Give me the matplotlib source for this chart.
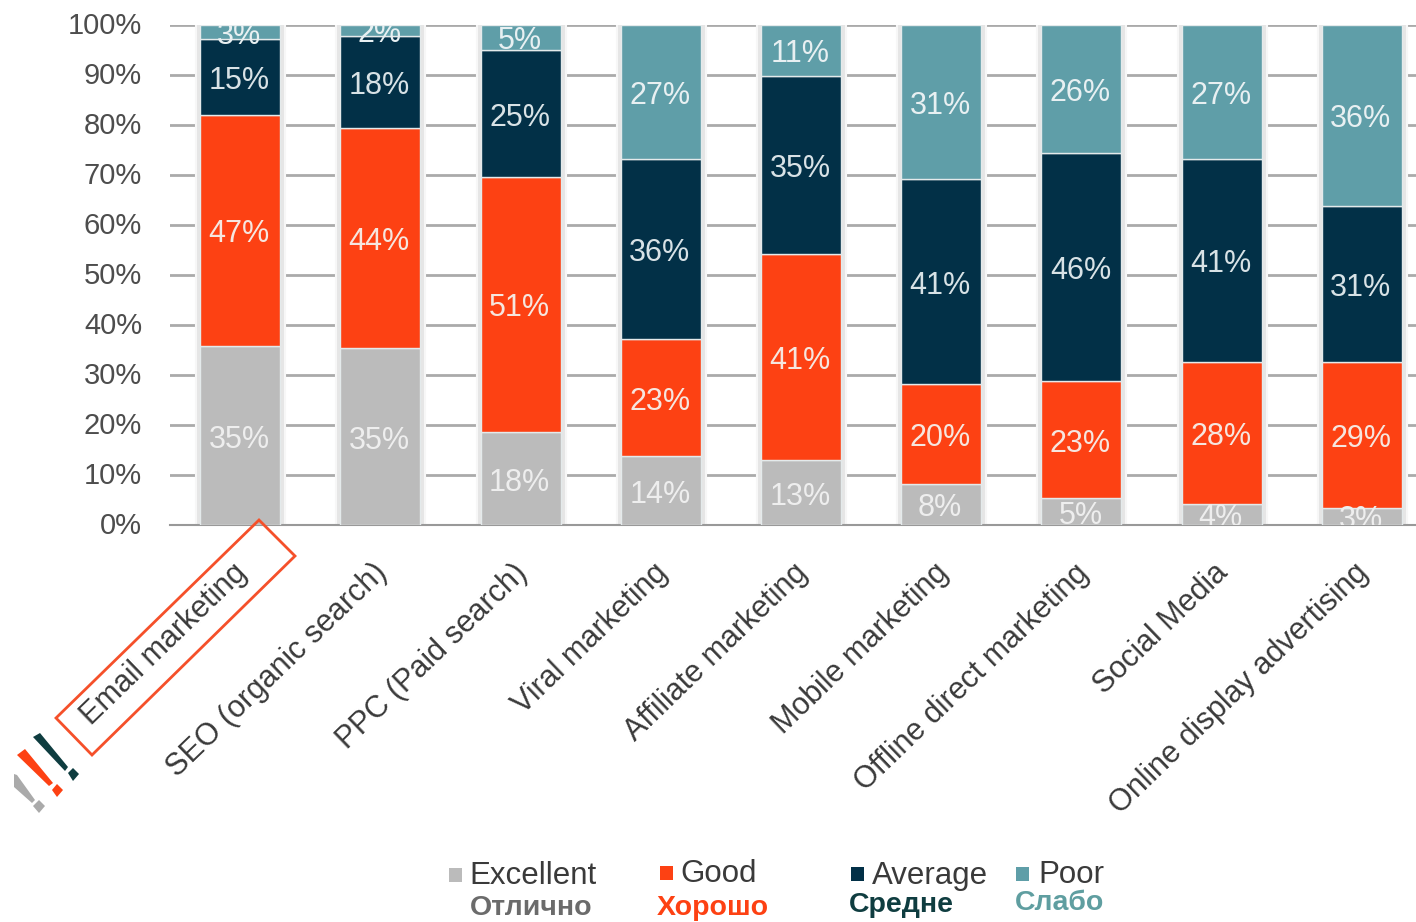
import matplotlib
matplotlib.use("Agg")
import matplotlib.pyplot as plt
import matplotlib.patheffects as pe
from matplotlib.patches import Polygon, Rectangle
from matplotlib.transforms import ScaledTranslation, Affine2D
import numpy as np

categories = ["Email marketing", "SEO (organic search)", "PPC (Paid search)", "Viral marketing",
              "Affiliate marketing", "Mobile marketing", "Offline direct marketing", "Social Media",
              "Online display advertising"]
# printed labels
excellent = [35, 35, 18, 14, 13, 8, 5, 4, 3]
good = [47, 44, 51, 23, 41, 20, 23, 28, 29]
average = [15, 18, 25, 36, 35, 41, 46, 41, 31]
poor = [3, 2, 5, 27, 11, 31, 26, 27, 36]
# drawn segment heights
excellent_h = [35.8, 35.4, 18.6, 13.8, 13.0, 8.2, 5.4, 4.2, 3.4]
good_h = [46.2, 44.0, 51.0, 23.4, 41.2, 20.0, 23.4, 28.4, 29.2]
average_h = [15.2, 18.4, 25.4, 36.0, 35.6, 41.0, 45.6, 40.6, 31.2]
poor_h = [2.8, 2.2, 5.0, 26.8, 10.2, 30.8, 25.6, 26.8, 36.2]
series_names = ["Excellent", "Good", "Average", "Poor"]
series_ru = ["Отлично", "Хорошо", "Средне", "Слабо"]
colors = ["#bbbbbb", "#fd4113", "#023047", "#5f9ea8"]
ru_colors = ["#6b6b6b", "#fd4113", "#0f3d40", "#5f9ea0"]
label_colors = ["#eeeeee", "#f6e6df", "#d8e2e6", "#e8f0f2"]
yticks = [0, 10, 20, 30, 40, 50, 60, 70, 80, 90, 100]

W, H = 1416, 922
plt.rcParams["font.family"] = ["Liberation Sans", "DejaVu Sans"]
fig = plt.figure(figsize=(W / 100, H / 100), dpi=100)
ax = fig.add_axes([170 / W, (H - 525) / H, (1432 - 170) / W, 500 / H])

px = Affine2D().scale(1, -1).translate(0, H)  # reference pixel coordinates (y down)

labels = np.array([excellent, good, average, poor])
heights = np.array([excellent_h, good_h, average_h, poor_h])
x = np.arange(len(categories))

# soft halo behind each whole column
columns = ax.bar(x, heights.sum(axis=0), 0.57, color="#dddddd", linewidth=0, zorder=2)
for b in columns:
    b.set_path_effects([pe.Stroke(linewidth=8, foreground="#f7f7f7"),
                        pe.Stroke(linewidth=5, foreground="#e6e6e6"),
                        pe.Normal()])

text_shift = ScaledTranslation(-1 / 100, -4 / 100, fig.dpi_scale_trans)
bottom = np.zeros(len(categories))
for k in range(4):
    ax.bar(x, heights[k], 0.57, bottom=bottom, color=colors[k], edgecolor="#e4eaeb",
           linewidth=1.0, zorder=3)
    for i in range(len(x)):
        ax.text(x[i], bottom[i] + heights[k][i] / 2, f"{labels[k][i]}%", ha="center", va="center",
                fontsize=22, color=label_colors[k], zorder=4, clip_on=True,
                transform=ax.transData + text_shift)
    bottom += heights[k]

ax.set_xlim(-0.5, len(categories) - 0.5)
ax.set_ylim(0, 100)
ax.set_yticks(yticks)
ax.set_yticklabels([f"{v}%" for v in yticks], fontsize=21, color="#4d4d4d")
ax.tick_params(axis="y", length=0, pad=20)
up = ScaledTranslation(0, 2 / 100, fig.dpi_scale_trans)
for t in ax.get_yticklabels():
    t.set_transform(t.get_transform() + up)
ax.set_xticks(x)
ax.set_xticklabels(categories, fontsize=22, color="#3a3a3a", rotation=44, ha="right", rotation_mode="anchor")
ax.tick_params(axis="x", length=0, pad=0)
shift = ScaledTranslation(-8 / 100, -33 / 100, fig.dpi_scale_trans)
for t in ax.get_xticklabels():
    t.set_transform(t.get_transform() + shift)
for s in ["top", "right", "left"]:
    ax.spines[s].set_visible(False)
ax.spines["bottom"].set_color("#999999")
ax.spines["bottom"].set_linewidth(1.5)
ax.grid(axis="y", color="#aaaaaa", linewidth=2)
ax.set_axisbelow(True)

# highlight frame around the first category
fig.add_artist(Polygon([(259, 520), (295, 556), (92, 755), (56, 718)], closed=True, fill=False,
                       edgecolor="#f5502a", linewidth=2, transform=px, zorder=6))

# exclamation marks
marks = [
    ("#0f3d40", [(33, 737), (40, 733), (68, 767), (65, 771)], [(68, 773), (73, 768), (79, 774), (73, 781)]),
    ("#fd4113", [(17, 755), (25, 749), (53, 783), (49, 786)], [(52, 790), (57, 784), (63, 790), (57, 797)]),
    ("#aaaaaa", [(14, 774), (17, 775), (35, 800), (32, 803), (14, 787)], [(33, 806), (39, 800), (45, 806), (39, 813)]),
]
for c, stem, dot in marks:
    fig.add_artist(Polygon(stem, closed=True, facecolor=c, edgecolor="none", transform=px, zorder=6))
    fig.add_artist(Polygon(dot, closed=True, facecolor=c, edgecolor="none", transform=px, zorder=6))

# legend
sq = [(449, 868), (660, 866), (851, 867), (1016, 867)]
txt = [(469, 876), (680, 874), (872, 876), (1038, 875)]
ru = [(470, 908), (657, 908), (849, 905), (1015, 903)]
for k in range(4):
    fig.add_artist(Rectangle(sq[k], 13, 14, facecolor=colors[k], edgecolor="none", transform=px))
    fig.text(txt[k][0] / W, 1 - txt[k][1] / H, series_names[k], fontsize=22.5, color="#3a3a3a",
             ha="left", va="center")
    fig.text(ru[k][0] / W, 1 - ru[k][1] / H, series_ru[k], fontsize=20.5, fontweight="bold",
             color=ru_colors[k], ha="left", va="center")

fig.savefig("out.png", dpi=100)
